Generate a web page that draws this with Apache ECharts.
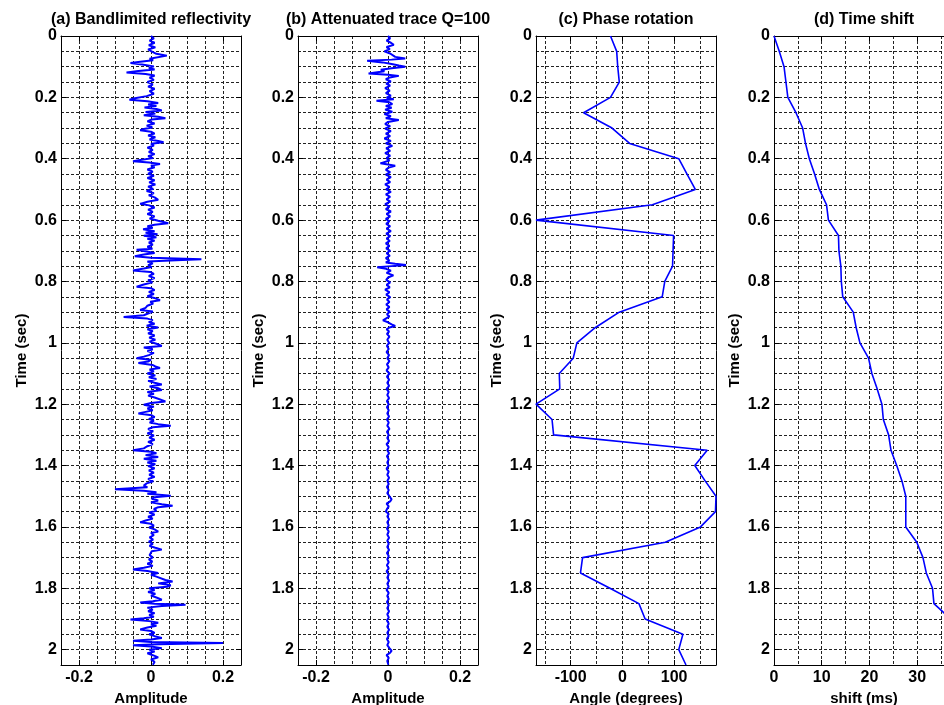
<!DOCTYPE html>
<html><head><meta charset="utf-8">
<script src="https://cdn.jsdelivr.net/npm/echarts@6/dist/echarts.min.js"></script>
<style>html,body{margin:0;padding:0;background:#fff}#c{width:944px;height:705px}</style>
</head><body><div id="c"></div>
<script>
// [time (s), amplitude]
const reflectivity = [[0.000,0.000],[0.008,0.008],[0.015,-0.004],[0.022,0.010],[0.030,-0.006],[0.037,0.012],[0.044,-0.008],[0.052,0.004],[0.058,0.015],[0.064,0.044],[0.070,0.040],[0.074,-0.004],[0.079,0.006],[0.084,-0.030],[0.088,-0.057],[0.093,-0.025],[0.099,0.008],[0.104,-0.006],[0.109,0.010],[0.114,-0.035],[0.119,-0.068],[0.124,-0.015],[0.129,0.010],[0.136,-0.004],[0.143,0.008],[0.150,-0.010],[0.158,0.005],[0.165,-0.008],[0.172,0.010],[0.180,-0.004],[0.188,0.008],[0.196,-0.012],[0.203,-0.045],[0.208,-0.060],[0.213,-0.010],[0.218,0.020],[0.223,-0.008],[0.228,0.015],[0.233,-0.018],[0.238,0.015],[0.243,0.030],[0.248,-0.015],[0.253,0.012],[0.258,-0.020],[0.263,0.020],[0.268,0.040],[0.272,0.002],[0.278,-0.010],[0.285,0.010],[0.292,-0.012],[0.298,0.004],[0.303,-0.020],[0.307,-0.030],[0.312,0.000],[0.318,0.010],[0.324,-0.008],[0.330,0.012],[0.337,-0.004],[0.342,0.020],[0.346,0.035],[0.351,0.000],[0.357,0.008],[0.364,-0.010],[0.371,0.005],[0.378,-0.006],[0.385,0.010],[0.392,-0.008],[0.398,0.006],[0.404,-0.030],[0.408,-0.050],[0.412,-0.005],[0.417,0.025],[0.422,0.000],[0.428,0.010],[0.435,-0.010],[0.442,0.005],[0.449,-0.008],[0.456,0.008],[0.463,-0.010],[0.470,0.010],[0.477,-0.005],[0.484,0.012],[0.491,-0.008],[0.498,0.006],[0.505,-0.012],[0.512,0.008],[0.519,-0.006],[0.526,0.010],[0.534,0.020],[0.540,-0.010],[0.547,-0.030],[0.552,-0.005],[0.559,0.010],[0.566,-0.008],[0.573,0.005],[0.580,-0.010],[0.588,0.010],[0.595,-0.004],[0.602,0.020],[0.610,0.048],[0.615,0.010],[0.620,-0.010],[0.625,0.005],[0.630,-0.022],[0.636,0.010],[0.641,-0.015],[0.646,0.018],[0.651,-0.020],[0.656,0.015],[0.661,-0.010],[0.667,0.010],[0.673,-0.006],[0.680,0.005],[0.687,-0.010],[0.693,0.004],[0.697,-0.040],[0.702,-0.012],[0.707,0.010],[0.712,-0.020],[0.718,-0.045],[0.723,0.000],[0.728,0.140],[0.731,0.070],[0.735,-0.010],[0.741,0.005],[0.747,-0.008],[0.753,0.002],[0.758,-0.020],[0.764,-0.050],[0.769,-0.002],[0.775,0.008],[0.782,-0.006],[0.789,0.010],[0.796,-0.008],[0.803,0.004],[0.810,-0.020],[0.817,-0.040],[0.822,0.000],[0.828,0.010],[0.834,-0.006],[0.841,0.008],[0.848,-0.010],[0.855,0.012],[0.861,0.025],[0.866,-0.002],[0.872,0.006],[0.879,-0.010],[0.886,-0.015],[0.893,-0.030],[0.898,0.005],[0.904,0.000],[0.910,-0.020],[0.916,-0.076],[0.921,-0.010],[0.926,0.005],[0.932,-0.006],[0.938,0.010],[0.944,-0.012],[0.950,0.020],[0.956,-0.010],[0.962,0.005],[0.969,-0.008],[0.976,0.010],[0.983,-0.005],[0.990,0.012],[0.996,-0.004],[1.003,0.015],[1.010,0.030],[1.015,-0.020],[1.021,0.005],[1.027,-0.010],[1.033,0.008],[1.040,-0.006],[1.045,-0.020],[1.050,-0.040],[1.055,0.000],[1.061,-0.008],[1.066,-0.035],[1.072,0.004],[1.077,0.012],[1.082,0.025],[1.087,-0.004],[1.093,0.008],[1.100,-0.010],[1.106,0.012],[1.112,-0.006],[1.118,0.015],[1.124,-0.008],[1.130,0.010],[1.136,0.030],[1.142,-0.004],[1.148,0.020],[1.154,0.030],[1.160,-0.010],[1.166,0.008],[1.172,-0.008],[1.178,0.010],[1.184,0.015],[1.191,0.040],[1.196,0.000],[1.202,-0.020],[1.208,0.008],[1.214,-0.010],[1.220,0.005],[1.225,-0.015],[1.230,-0.035],[1.236,0.002],[1.242,0.010],[1.248,-0.006],[1.254,0.008],[1.260,-0.004],[1.265,0.020],[1.270,0.055],[1.275,0.005],[1.281,-0.008],[1.288,0.006],[1.295,-0.010],[1.302,0.008],[1.309,-0.005],[1.316,0.010],[1.323,-0.008],[1.330,0.005],[1.337,-0.010],[1.344,-0.020],[1.350,-0.050],[1.355,0.000],[1.360,0.015],[1.366,-0.015],[1.372,0.020],[1.378,-0.020],[1.384,0.015],[1.390,-0.010],[1.396,0.012],[1.402,-0.008],[1.409,0.010],[1.416,-0.006],[1.423,0.008],[1.430,-0.005],[1.437,0.010],[1.444,-0.008],[1.451,0.006],[1.458,-0.012],[1.465,-0.020],[1.471,-0.010],[1.477,-0.100],[1.482,-0.020],[1.487,0.015],[1.492,-0.010],[1.498,0.055],[1.503,0.010],[1.508,0.002],[1.514,0.020],[1.520,0.000],[1.526,0.030],[1.531,0.060],[1.536,0.020],[1.541,0.008],[1.547,0.015],[1.553,-0.005],[1.560,0.010],[1.567,-0.008],[1.573,0.005],[1.579,-0.015],[1.585,-0.030],[1.590,0.000],[1.596,0.008],[1.602,-0.005],[1.608,0.010],[1.615,0.020],[1.620,0.000],[1.627,0.008],[1.634,-0.004],[1.641,0.006],[1.648,-0.006],[1.655,0.005],[1.662,-0.004],[1.668,0.012],[1.674,0.030],[1.679,0.002],[1.685,0.006],[1.692,-0.004],[1.699,0.005],[1.706,-0.006],[1.713,0.004],[1.720,-0.010],[1.727,0.005],[1.733,-0.020],[1.739,-0.050],[1.744,-0.010],[1.750,0.020],[1.756,0.000],[1.762,0.015],[1.768,0.010],[1.773,0.040],[1.778,0.060],[1.784,0.020],[1.790,0.055],[1.795,0.045],[1.800,-0.005],[1.806,0.010],[1.812,-0.008],[1.818,0.012],[1.824,0.000],[1.830,0.015],[1.837,0.030],[1.842,0.005],[1.846,-0.030],[1.850,0.010],[1.854,0.096],[1.858,0.030],[1.863,-0.010],[1.869,0.005],[1.875,-0.008],[1.881,0.010],[1.887,-0.005],[1.893,0.008],[1.898,-0.020],[1.902,-0.057],[1.907,-0.005],[1.912,0.020],[1.917,0.000],[1.922,0.015],[1.928,-0.010],[1.934,-0.030],[1.939,0.000],[1.945,0.010],[1.950,-0.005],[1.956,0.010],[1.962,0.030],[1.967,0.000],[1.971,-0.050],[1.975,0.000],[1.978,0.200],[1.982,0.020],[1.986,-0.050],[1.990,0.000],[1.995,0.030],[2.000,-0.005],[2.006,0.010],[2.012,-0.010],[2.018,0.005],[2.025,0.020],[2.032,0.000],[2.040,0.010],[2.049,0.005]];

// [time (s), amplitude]
const attenuated = [[0.000,0.000],[0.008,0.006],[0.015,-0.004],[0.022,0.008],[0.029,0.016],[0.036,-0.004],[0.043,0.005],[0.050,-0.010],[0.057,0.006],[0.063,0.004],[0.068,0.020],[0.073,0.048],[0.077,0.010],[0.081,-0.058],[0.086,-0.015],[0.091,0.010],[0.096,0.030],[0.100,0.048],[0.105,0.010],[0.110,-0.020],[0.115,-0.010],[0.122,-0.054],[0.126,0.000],[0.130,0.030],[0.135,0.005],[0.141,-0.006],[0.148,0.008],[0.155,-0.005],[0.162,0.006],[0.170,-0.008],[0.178,0.005],[0.186,-0.006],[0.194,0.008],[0.201,-0.004],[0.206,0.016],[0.211,-0.032],[0.216,0.004],[0.222,0.012],[0.228,-0.006],[0.234,0.010],[0.240,-0.008],[0.247,0.012],[0.254,-0.010],[0.261,0.008],[0.268,-0.006],[0.274,0.030],[0.280,0.000],[0.287,-0.008],[0.294,0.006],[0.302,-0.008],[0.310,0.008],[0.318,-0.006],[0.326,0.006],[0.334,-0.010],[0.342,0.008],[0.350,-0.006],[0.358,0.012],[0.366,-0.005],[0.374,0.006],[0.382,-0.008],[0.390,0.006],[0.398,-0.004],[0.406,0.004],[0.415,-0.021],[0.419,0.000],[0.423,0.020],[0.429,0.002],[0.436,-0.006],[0.444,0.006],[0.452,-0.006],[0.460,0.008],[0.468,-0.004],[0.476,0.006],[0.484,-0.008],[0.492,0.004],[0.500,-0.005],[0.508,0.008],[0.516,-0.006],[0.524,0.006],[0.532,-0.004],[0.540,0.006],[0.548,-0.008],[0.556,0.004],[0.564,-0.006],[0.572,0.008],[0.580,-0.004],[0.588,0.006],[0.596,-0.006],[0.604,0.004],[0.612,-0.005],[0.620,0.006],[0.628,-0.004],[0.636,0.008],[0.644,-0.005],[0.652,0.006],[0.660,-0.004],[0.668,0.005],[0.676,-0.006],[0.684,0.004],[0.692,-0.005],[0.700,0.006],[0.708,-0.004],[0.716,0.005],[0.724,-0.006],[0.732,0.004],[0.738,-0.006],[0.742,0.020],[0.746,0.050],[0.750,0.010],[0.754,-0.030],[0.759,-0.005],[0.765,0.008],[0.772,-0.004],[0.780,0.015],[0.787,0.000],[0.795,-0.005],[0.803,0.006],[0.811,-0.004],[0.819,0.005],[0.827,-0.008],[0.835,0.004],[0.843,-0.005],[0.851,0.006],[0.859,-0.003],[0.867,0.004],[0.875,-0.005],[0.883,0.004],[0.891,-0.004],[0.899,0.005],[0.907,-0.003],[0.914,0.004],[0.921,-0.006],[0.927,-0.014],[0.933,0.000],[0.940,0.010],[0.945,0.020],[0.950,0.004],[0.956,-0.004],[0.963,0.003],[0.971,-0.003],[0.980,0.004],[0.990,-0.002],[1.000,0.003],[1.010,-0.003],[1.020,0.002],[1.030,-0.004],[1.040,0.003],[1.050,-0.002],[1.060,0.004],[1.070,-0.003],[1.080,0.002],[1.090,-0.004],[1.100,0.004],[1.110,-0.003],[1.120,0.003],[1.130,-0.002],[1.140,0.003],[1.150,-0.004],[1.160,0.002],[1.170,-0.002],[1.180,0.003],[1.190,-0.003],[1.200,0.002],[1.210,-0.003],[1.220,0.002],[1.230,-0.002],[1.240,0.003],[1.250,-0.003],[1.260,0.002],[1.270,-0.002],[1.280,0.004],[1.290,-0.003],[1.300,0.002],[1.310,-0.002],[1.320,0.003],[1.330,-0.004],[1.340,0.002],[1.350,-0.002],[1.360,0.003],[1.370,-0.003],[1.380,0.002],[1.390,-0.002],[1.400,0.002],[1.410,-0.004],[1.420,0.002],[1.430,-0.002],[1.440,0.003],[1.450,-0.002],[1.460,0.002],[1.470,-0.003],[1.480,0.002],[1.490,-0.002],[1.500,0.004],[1.510,0.010],[1.517,0.006],[1.524,-0.004],[1.533,0.002],[1.542,-0.003],[1.550,-0.006],[1.558,0.002],[1.566,-0.002],[1.575,0.003],[1.585,-0.002],[1.595,0.002],[1.605,-0.003],[1.615,0.002],[1.625,-0.002],[1.635,0.003],[1.645,-0.002],[1.655,0.002],[1.665,-0.002],[1.675,0.003],[1.685,-0.003],[1.695,0.002],[1.705,-0.002],[1.715,0.002],[1.725,-0.003],[1.735,0.002],[1.745,-0.004],[1.755,0.002],[1.765,-0.002],[1.775,0.003],[1.785,-0.002],[1.795,0.002],[1.805,-0.004],[1.815,0.002],[1.825,-0.002],[1.835,0.002],[1.845,-0.003],[1.855,0.002],[1.865,-0.002],[1.875,0.003],[1.885,-0.002],[1.895,0.002],[1.905,-0.003],[1.915,0.002],[1.925,-0.002],[1.935,0.003],[1.945,-0.002],[1.955,0.002],[1.965,-0.003],[1.975,0.002],[1.985,-0.002],[1.995,0.004],[2.003,0.010],[2.010,0.006],[2.018,-0.004],[2.027,0.002],[2.037,-0.002],[2.049,0.001]];

const knotTimes = [0,0.05,0.1,0.15,0.2,0.25,0.3,0.35,0.4,0.45,0.5,0.55,0.6,0.65,0.7,0.75,0.8,0.85,0.9,0.95,1.0,1.05,1.1,1.15,1.2,1.25,1.3,1.35,1.4,1.45,1.5,1.55,1.6,1.65,1.7,1.75,1.8,1.85,1.9,1.95,2.0,2.05];
const phaseAngle = [-23,-11,-9,-6,-23,-75,-20,14,109,125,141,58,-167,99,98,97,82,77,-6,-52,-88,-95,-122,-121,-167,-136,-133,164,140,160,181,180,151,83,-77,-81,-24,32,44,117,109,123];
const timeShift = [0,1.1,2.1,2.5,2.9,4.6,6.0,6.6,7.4,8.5,9.5,11.0,11.4,13.5,13.6,14.0,14.1,14.4,16.6,17.2,18.0,19.8,20.5,21.6,22.6,22.9,24.0,24.5,25.7,26.8,27.6,27.6,27.6,29.9,31.2,31.9,33.2,33.5,37.0,37.3,37.5,37.7];

const timeTicks = [0,0.2,0.4,0.6,0.8,1,1.2,1.4,1.6,1.8,2];
const ampTicks = [-0.2,0,0.2];
const angleTicks = [-100,0,100];
const angleGrid = [-150,-100,-50,0,50,100,150];
const shiftTicks = [0,10,20,30];
const titles = ['(a) Bandlimited reflectivity','(b) Attenuated trace Q=100','(c) Phase rotation','(d) Time shift'];
const xNames = ['Amplitude','Amplitude','Angle (degrees)','shift (ms)'];
const yName = 'Time (sec)';

const FONT = '"Liberation Sans", Arial, sans-serif';
const TOP = 36, W = 180, H = 629;
const panels = [
  {left:61,  xmin:-0.25, xmax:0.25, ticks:ampTicks, gridInterval:0.05, data:reflectivity.map(p=>[p[1],p[0]]), lw:2},
  {left:298, xmin:-0.25, xmax:0.25, ticks:ampTicks, gridInterval:0.05, data:attenuated.map(p=>[p[1],p[0]]), lw:2},
  {left:536, xmin:-167, xmax:181, ticks:angleTicks, gridValues:angleGrid, data:knotTimes.map((t,i)=>[phaseAngle[i],t]), lw:1.6},
  {left:774, xmin:0, xmax:37.7, ticks:shiftTicks, gridInterval:5, data:knotTimes.map((t,i)=>[timeShift[i],t]), lw:1.6}
];

const lineBlack = {color:'#000', width:1};
const gridDash = {color:'#222', width:1, type:[3,2]};
const tickStyle = {show:true, inside:true, length:5, lineStyle:lineBlack};

const option = {animation:false, backgroundColor:'#fff', title:[], grid:[], xAxis:[], yAxis:[], series:[]};

panels.forEach((p, gi) => {
  option.title.push({text:titles[gi], left:p.left + W/2 - 5, top:7, textAlign:'center',
    textStyle:{fontSize:16, fontWeight:'bold', color:'#000', fontFamily:FONT}});
  option.grid.push({left:p.left, top:TOP, width:W, height:H, containLabel:false, outerBoundsMode:'none'});
  // x: labelled bottom axis
  option.xAxis.push({type:'value', gridIndex:gi, position:'bottom', min:p.xmin, max:p.xmax,
    axisLine:{show:true, onZero:false, lineStyle:lineBlack},
    axisTick:Object.assign({customValues:p.ticks}, tickStyle),
    axisLabel:{customValues:p.ticks, color:'#000', fontSize:16, fontWeight:'bold', fontFamily:FONT, margin:5},
    splitLine:{show:false},
    name:xNames[gi], nameLocation:'middle', nameGap:23,
    nameTextStyle:{color:'#000', fontSize:15, fontWeight:'bold', fontFamily:FONT}});
  // x: top box axis
  option.xAxis.push({type:'value', gridIndex:gi, position:'top', min:p.xmin, max:p.xmax,
    axisLine:{show:true, onZero:false, lineStyle:lineBlack},
    axisTick:Object.assign({customValues:p.ticks}, tickStyle),
    axisLabel:{show:false}, splitLine:{show:false}});
  // x: grid-line axis
  const gx = {type:'value', gridIndex:gi, position:'bottom', min:p.xmin, max:p.xmax,
    axisLine:{show:false, onZero:false}, axisLabel:{show:false},
    splitLine:{show:true, lineStyle:gridDash}};
  if (p.gridValues) { gx.axisTick = {show:false, customValues:p.gridValues}; }
  else { gx.interval = p.gridInterval; gx.axisTick = {show:false}; }
  option.xAxis.push(gx);

  // y: labelled left axis
  option.yAxis.push({type:'value', gridIndex:gi, position:'left', inverse:true, min:0, max:2.05,
    axisLine:{show:true, onZero:false, lineStyle:lineBlack},
    axisTick:Object.assign({customValues:timeTicks}, tickStyle),
    axisLabel:{customValues:timeTicks, color:'#000', fontSize:16, fontWeight:'bold', fontFamily:FONT, margin:4},
    splitLine:{show:false},
    name:yName, nameLocation:'middle', nameGap:32, nameRotate:90,
    nameTextStyle:{color:'#000', fontSize:15, fontWeight:'bold', fontFamily:FONT}});
  // y: right box axis
  option.yAxis.push({type:'value', gridIndex:gi, position:'right', inverse:true, min:0, max:2.05,
    axisLine:{show:true, onZero:false, lineStyle:lineBlack},
    axisTick:Object.assign({customValues:timeTicks}, tickStyle),
    axisLabel:{show:false}, splitLine:{show:false}});
  // y: grid-line axis
  option.yAxis.push({type:'value', gridIndex:gi, position:'left', inverse:true, min:0, max:2.05, interval:0.05,
    axisLine:{show:false, onZero:false}, axisTick:{show:false}, axisLabel:{show:false},
    splitLine:{show:true, lineStyle:gridDash}});

  option.series.push({type:'line', xAxisIndex:gi*3, yAxisIndex:gi*3, data:p.data,
    showSymbol:false, symbol:'none', clip:true, z:5,
    lineStyle:{color:'#0000ff', width:p.lw}, silent:true});
});

const chart = echarts.init(document.getElementById('c'), null, {renderer:'canvas'});
chart.setOption(option);
</script></body></html>
